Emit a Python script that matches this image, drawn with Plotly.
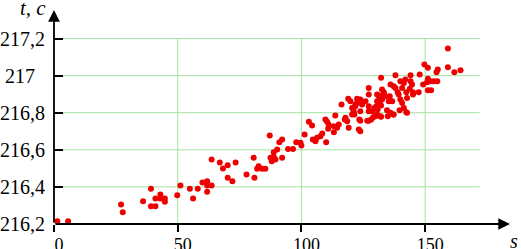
import plotly.graph_objects as go

s_vals = [1.3, 5.7, 27.1, 27.8, 36.0, 39.2, 39.2, 41.0, 41.0, 43.0, 43.0, 44.8, 44.8, 49.8, 51.1,
          54.9, 56.2, 58.1, 60.0, 61.9, 61.9, 61.9, 63.7, 63.7, 67.0, 68.3, 70.2, 70.2, 72.1, 73.4,
          77.8, 80.7, 81.0, 82.7, 82.1, 84.1, 85.4, 87.2, 87.5, 88.0, 88.8, 89.5, 88.8, 90.2, 91.1,
          92.2, 92.2, 94.6, 96.6, 97.9, 99.6, 100.0, 101.3, 103.0, 104.3, 104.6, 105.7, 106.3, 107.7,
          108.4, 110.0, 109.7, 110.4, 111.0, 113.1, 114.4, 115.1, 110.8, 113.1, 113.7, 116.2, 117.5,
          118.5, 119.1, 117.8, 118.9, 119.8, 120.5, 121.1, 120.5, 121.8, 122.5, 123.2, 123.4, 159.2,
          149.7, 151.1, 155.1, 154.6, 159.2, 161.8, 164.3, 151.1, 152.1, 153.5, 154.9, 150.8, 149.2,
          151.1, 152.4, 147.8, 144.1, 142.0, 144.1, 144.7, 143.8, 147.4, 145.1, 145.1, 142.4, 142.7,
          141.4, 140.7, 140.0, 138.0, 136.0, 138.0, 137.3, 138.9, 139.3, 140.0, 140.7, 141.4, 142.4,
          139.7, 137.3, 132.2, 127.2, 127.2, 132.6, 133.3, 133.3, 133.9, 135.3, 132.6, 131.6, 130.6,
          131.2, 130.6, 131.6, 132.2, 130.3, 130.8, 125.9, 123.8, 124.5, 122.5, 121.8, 120.9, 121.4,
          123.8, 127.2, 127.2, 128.6, 129.5, 129.9, 130.6, 128.2, 127.2, 126.6, 129.0, 131.9, 132.2,
          123.8, 134.6, 136.0, 137.1, 134.9, 123.8, 135.7, 136.7, 142.7]
t_vals = [216.215, 216.215, 216.305, 216.264, 216.323, 216.39, 216.296, 216.296, 216.337, 216.359,
          216.337, 216.337, 216.32, 216.355, 216.407, 216.39, 216.337, 216.39, 216.424, 216.431,
          216.407, 216.374, 216.407, 216.548, 216.532, 216.499, 216.517, 216.449, 216.431, 216.532,
          216.467, 216.557, 216.449, 216.512, 216.498, 216.498, 216.498, 216.677, 216.557, 216.539,
          216.562, 216.548, 216.587, 216.602, 216.641, 216.656, 216.557, 216.605, 216.605, 216.641,
          216.638, 216.623, 216.683, 216.751, 216.731, 216.656, 216.646, 216.665, 216.673, 216.688,
          216.641, 216.763, 216.751, 216.736, 216.727, 216.719, 216.736, 216.713, 216.695, 216.785,
          216.844, 216.763, 216.754, 216.719, 216.773, 216.875, 216.862, 216.826, 216.808, 216.79,
          216.844, 216.875, 216.709, 216.763, 217.146, 217.06, 217.042, 217.033, 217.018, 217.045,
          217.018, 217.029, 216.983, 216.97, 216.97, 216.97, 216.964, 216.952, 216.921, 216.921,
          217.006, 217.002, 216.979, 216.97, 216.952, 216.929, 216.911, 216.911, 216.898, 216.911,
          216.88, 216.961, 216.934, 216.97, 217.002, 216.952, 216.934, 216.943, 216.911, 216.898,
          216.871, 216.853, 216.826, 216.803, 216.813, 216.79, 216.988, 216.934, 216.898, 216.925,
          216.911, 216.898, 216.889, 216.862, 216.871, 216.88, 216.898, 216.893, 216.862, 216.853,
          216.839, 216.835, 216.817, 216.862, 216.871, 216.844, 216.853, 216.835, 216.826, 216.79,
          216.808, 216.835, 216.808, 216.808, 216.826, 216.781, 216.79, 216.763, 216.757, 216.757,
          216.776, 216.781, 216.778, 216.757, 216.813, 216.8, 216.79, 216.781, 216.7, 216.889,
          216.862, 216.8]

x_ticks = [0, 50, 100, 150]
x_tick_labels = ["0", "50", "100", "150"]
y_ticks = [216.2, 216.4, 216.6, 216.8, 217.0, 217.2]
y_tick_labels = ["216,2", "216,4", "216,6", "216,8", "217\u00a0\u00a0", "217,2"]

X_MAX = 184.3
Y_MIN, Y_MAX = 216.2, 217.354
GRID_X_END = 172
GRID_Y_END = 217.2
FONT = "Times New Roman, Liberation Serif, serif"
GRID_COLOR = "#a3e3a3"

fig = go.Figure()
fig.add_trace(go.Scatter(x=s_vals, y=t_vals, mode="markers",
                         marker=dict(color="#ee0000", size=6),
                         cliponaxis=False, showlegend=False, hoverinfo="skip"))

shapes = []
for yv in y_ticks[1:]:
    shapes.append(dict(type="line", xref="x", yref="y", x0=0, x1=GRID_X_END, y0=yv, y1=yv,
                       line=dict(color=GRID_COLOR, width=1), layer="below"))
for xv in x_ticks[1:]:
    shapes.append(dict(type="line", xref="x", yref="y", x0=xv, x1=xv, y0=Y_MIN, y1=GRID_Y_END,
                       line=dict(color=GRID_COLOR, width=1), layer="below"))

annotations = [
    dict(x=X_MAX, y=Y_MIN, ax=0, ay=Y_MIN, xref="x", yref="y", axref="x", ayref="y",
         showarrow=True, arrowhead=2, arrowsize=1.3, arrowwidth=1.8, arrowcolor="black", text=""),
    dict(x=0, y=Y_MAX, ax=0, ay=Y_MIN, xref="x", yref="y", axref="x", ayref="y",
         showarrow=True, arrowhead=2, arrowsize=1.3, arrowwidth=1.8, arrowcolor="black", text=""),
    dict(x=-0.078, y=1.008, xref="paper", yref="paper", xanchor="left", yanchor="middle",
         text="<i>t, c</i>", showarrow=False, font=dict(family=FONT, size=21, color="black")),
    dict(x=1.008, y=-0.079, xref="paper", yref="paper", xanchor="center", yanchor="middle",
         text="<i>s</i>", showarrow=False, font=dict(family=FONT, size=20, color="black")),
]

fig.update_layout(
    width=521, height=249,
    margin=dict(l=54, r=11, t=10, b=25, pad=0, autoexpand=False),
    paper_bgcolor="white", plot_bgcolor="white",
    shapes=shapes, annotations=annotations,
    font=dict(family=FONT, size=18, color="black"),
    xaxis=dict(range=[0, X_MAX], showgrid=False, zeroline=False, showline=False,
               automargin=False,
               tickvals=x_ticks, ticktext=x_tick_labels, ticks="outside", ticklen=7,
               tickwidth=1.5, tickcolor="black", ticklabelshift=5, ticklabelstandoff=-3,
               tickfont=dict(family=FONT, size=18, color="black")),
    yaxis=dict(range=[Y_MIN, Y_MAX], showgrid=False, zeroline=False, showline=False,
               automargin=False,
               tickvals=y_ticks, ticktext=y_tick_labels, ticks="inside", ticklen=9,
               tickwidth=1.5, tickcolor="black", ticklabelstandoff=8,
               tickfont=dict(family=FONT, size=20, color="black")),
)

fig.write_html("out.html", config={"displayModeBar": False},
               post_script="document.body.style.margin='0';")
